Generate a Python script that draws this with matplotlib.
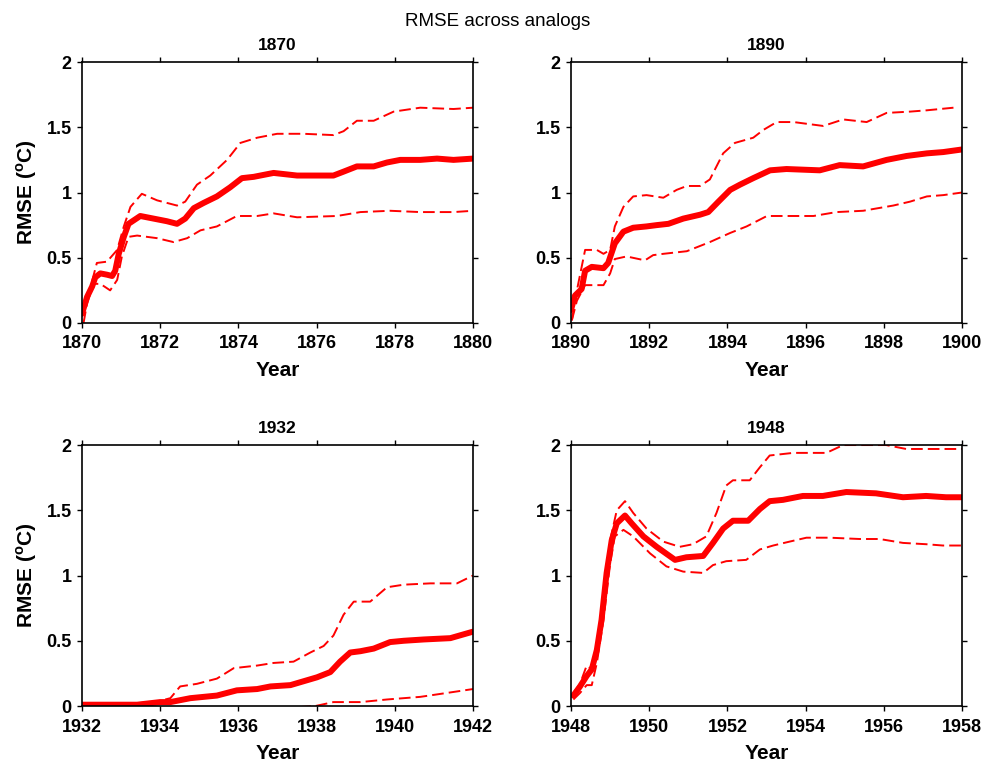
import numpy as np
import matplotlib
matplotlib.use('Agg')
import matplotlib.pyplot as plt

plt.rcParams['font.family'] = ['Liberation Sans', 'DejaVu Sans']
plt.rcParams['mathtext.fontset'] = 'custom'
plt.rcParams['mathtext.rm'] = 'Liberation Sans'
plt.rcParams['mathtext.bf'] = 'Liberation Sans:bold'

# ---- data (years since start, RMSE in degC) ----
start_years = [1870, 1890, 1932, 1948]

# 1870
t1870_mean = [0, 0.13, 0.26, 0.34, 0.47, 0.64, 0.77, 0.85, 0.94, 1.07, 1.19, 1.49, 1.83, 2.17, 2.43,
              2.64, 2.86, 3.11, 3.45, 3.79, 4.09, 4.39, 4.9, 5.5, 5.92, 6.43, 6.69, 7.03, 7.46, 7.8,
              8.14, 8.65, 9.08, 9.5, 10]
v1870_mean = [0.07, 0.2, 0.28, 0.35, 0.38, 0.37, 0.36, 0.4, 0.53, 0.66, 0.76, 0.82, 0.8, 0.78, 0.76,
              0.8, 0.88, 0.92, 0.97, 1.04, 1.11, 1.12, 1.15, 1.13, 1.13, 1.13, 1.16, 1.2, 1.2, 1.23,
              1.25, 1.25, 1.26, 1.25, 1.26]
t1870_hi = [0.04, 0.17, 0.38, 0.64, 0.9, 1.07, 1.24, 1.53, 1.92, 2.43, 2.64, 2.94, 3.28, 3.71, 4.05,
            4.48, 4.99, 5.67, 6.43, 6.69, 7.03, 7.46, 7.97, 8.65, 9.5, 10]
v1870_hi = [0.07, 0.22, 0.46, 0.47, 0.56, 0.74, 0.89, 0.99, 0.94, 0.9, 0.93, 1.06, 1.13, 1.25, 1.38,
            1.42, 1.45, 1.45, 1.44, 1.47, 1.55, 1.55, 1.62, 1.65, 1.64, 1.65]
t1870_lo = [0.04, 0.13, 0.3, 0.47, 0.72, 0.9, 1.02, 1.19, 1.41, 1.92, 2.34, 2.69, 3.03, 3.45, 3.96,
            4.48, 4.9, 5.5, 6.52, 7.12, 7.88, 8.65, 9.5, 10]
v1870_lo = [0.0, 0.15, 0.3, 0.3, 0.25, 0.33, 0.51, 0.66, 0.67, 0.65, 0.62, 0.65, 0.71, 0.74, 0.82,
            0.82, 0.84, 0.81, 0.82, 0.85, 0.86, 0.85, 0.85, 0.86]

# 1890
t1890_mean = [0, 0.1, 0.27, 0.36, 0.53, 0.83, 0.95, 1.12, 1.34, 1.59, 1.93, 2.19, 2.49, 2.87, 3.3,
              3.51, 3.77, 4.07, 4.32, 4.66, 5.09, 5.51, 6.36, 6.87, 7.47, 8.07, 8.58, 9.1, 9.52, 10]
v1890_mean = [0.1, 0.21, 0.26, 0.4, 0.43, 0.42, 0.46, 0.61, 0.7, 0.73, 0.74, 0.75, 0.76, 0.8, 0.83,
              0.85, 0.93, 1.02, 1.06, 1.11, 1.17, 1.18, 1.17, 1.21, 1.2, 1.25, 1.28, 1.3, 1.31, 1.33]
t1890_hi = [0.02, 0.15, 0.36, 0.66, 0.83, 1.0, 1.12, 1.34, 1.59, 1.93, 2.36, 2.7, 2.96, 3.3, 3.55,
            3.89, 4.19, 4.66, 4.92, 5.26, 5.69, 6.45, 6.96, 7.56, 8.07, 8.67, 9.1, 9.78]
v1890_hi = [0.02, 0.25, 0.56, 0.56, 0.53, 0.56, 0.74, 0.89, 0.97, 0.98, 0.96, 1.02, 1.05, 1.05, 1.1,
            1.3, 1.38, 1.42, 1.48, 1.54, 1.54, 1.51, 1.56, 1.54, 1.61, 1.62, 1.63, 1.65]
t1890_lo = [0.02, 0.15, 0.36, 0.83, 1.0, 1.12, 1.42, 1.89, 2.1, 2.36, 2.96, 3.55, 4.07, 4.49, 5.01,
            5.6, 6.2, 6.79, 7.47, 8.24, 8.67, 9.1, 9.52, 10]
v1890_lo = [0.02, 0.17, 0.29, 0.29, 0.38, 0.49, 0.51, 0.48, 0.52, 0.53, 0.55, 0.62, 0.69, 0.74, 0.82,
            0.82, 0.82, 0.85, 0.86, 0.9, 0.93, 0.97, 0.98, 1.0]

# 1932
t1932_mean = [0, 0.55, 1.41, 2.0, 2.26, 2.77, 3.45, 3.96, 4.48, 4.82, 5.33, 5.67, 6.01, 6.35, 6.6,
              6.86, 7.12, 7.46, 7.88, 8.23, 8.74, 9.42, 10]
v1932_mean = [0.01, 0.01, 0.01, 0.03, 0.03, 0.06, 0.08, 0.12, 0.13, 0.15, 0.16, 0.19, 0.22, 0.26, 0.34,
              0.41, 0.42, 0.44, 0.49, 0.5, 0.51, 0.52, 0.57]
t1932_hi = [0, 1.0, 1.75, 2.0, 2.26, 2.51, 2.94, 3.45, 3.88, 4.48, 4.9, 5.41, 5.84, 6.18, 6.43, 6.69,
            6.95, 7.37, 7.8, 8.23, 8.91, 9.59, 10]
v1932_hi = [0.01, 0.01, 0.03, 0.04, 0.06, 0.15, 0.17, 0.21, 0.29, 0.31, 0.33, 0.34, 0.41, 0.46, 0.54,
            0.7, 0.8, 0.8, 0.91, 0.93, 0.94, 0.94, 1.0]
t1932_lo = [0, 2.0, 4.0, 5.97, 6.43, 7.12, 7.8, 8.65, 9.33, 10]
v1932_lo = [-0.06, -0.06, -0.04, 0.0, 0.03, 0.03, 0.05, 0.07, 0.1, 0.13]

# 1948
t1948_mean = [0.06, 0.23, 0.4, 0.53, 0.66, 0.78, 0.91, 1.04, 1.17, 1.38, 1.55, 1.85, 2.19, 2.66, 2.95,
              3.38, 3.63, 3.89, 4.14, 4.53, 4.83, 5.08, 5.42, 5.93, 6.44, 7.04, 7.8, 8.49, 9.08, 9.59, 10]
v1948_mean = [0.08, 0.15, 0.23, 0.28, 0.43, 0.66, 1.02, 1.27, 1.4, 1.46, 1.4, 1.3, 1.22, 1.12, 1.14,
              1.15, 1.25, 1.36, 1.42, 1.42, 1.51, 1.57, 1.58, 1.61, 1.61, 1.64, 1.63, 1.6, 1.61, 1.6, 1.6]
t1948_hi = [0.06, 0.23, 0.4, 0.53, 0.66, 0.83, 1.0, 1.17, 1.38, 1.59, 1.93, 2.36, 2.78, 3.12, 3.46,
            3.72, 3.97, 4.14, 4.57, 4.83, 5.08, 5.68, 6.53, 6.96, 7.55, 8.06, 8.57, 9.25, 10]
v1948_hi = [0.1, 0.17, 0.31, 0.28, 0.45, 0.79, 1.27, 1.5, 1.57, 1.48, 1.36, 1.26, 1.22, 1.24, 1.3,
            1.48, 1.69, 1.73, 1.73, 1.83, 1.92, 1.94, 1.94, 2.0, 2.0, 2.0, 1.97, 1.97, 1.97]
t1948_lo = [0.06, 0.23, 0.4, 0.53, 0.66, 0.83, 1.0, 1.12, 1.34, 1.59, 2.02, 2.44, 2.87, 3.38, 3.63,
            3.97, 4.48, 4.83, 5.17, 5.59, 6.02, 6.61, 7.38, 7.89, 8.49, 9.08, 9.51, 10]
v1948_lo = [0.05, 0.1, 0.16, 0.16, 0.33, 0.66, 1.09, 1.3, 1.35, 1.3, 1.17, 1.07, 1.03, 1.02, 1.08,
            1.11, 1.12, 1.2, 1.23, 1.26, 1.29, 1.29, 1.28, 1.28, 1.25, 1.24, 1.23, 1.23]

panels = [
    (t1870_mean, v1870_mean, t1870_hi, v1870_hi, t1870_lo, v1870_lo),
    (t1890_mean, v1890_mean, t1890_hi, v1890_hi, t1890_lo, v1890_lo),
    (t1932_mean, v1932_mean, t1932_hi, v1932_hi, t1932_lo, v1932_lo),
    (t1948_mean, v1948_mean, t1948_hi, v1948_hi, t1948_lo, v1948_lo),
]

# axes boxes in figure fraction [left, bottom, width, height]
boxes = [
    [0.0824, 0.5767, 0.393, 0.342],
    [0.5739, 0.5767, 0.393, 0.342],
    [0.0824, 0.0747, 0.393, 0.342],
    [0.5739, 0.0747, 0.393, 0.342],
]

fig = plt.figure(figsize=(9.95, 7.63), dpi=100)

for i, (y0, box, data) in enumerate(zip(start_years, boxes, panels)):
    ax = fig.add_axes(box)
    tm, vm, th, vh, tl, vl = data
    ax.plot(y0 + np.array(tm), vm, color='#ff0000', lw=4.3, solid_capstyle='round', zorder=3)
    ax.plot(y0 + np.array(th), vh, color='#ff0000', lw=1.4, dashes=(6, 2.6), zorder=3)
    ax.plot(y0 + np.array(tl), vl, color='#ff0000', lw=1.4, dashes=(6, 2.6), zorder=3)

    ax.set_xlim(y0, y0 + 10)
    ax.set_ylim(0, 2)
    ax.set_xticks(np.arange(y0, y0 + 11, 2))
    ax.set_yticks([0, 0.5, 1, 1.5, 2])
    ax.set_yticklabels(['0', '0.5', '1', '1.5', '2'])
    ax.tick_params(direction='out', length=3.5, width=1, top=True, right=True, labelsize=13)
    ax.tick_params(axis='x', pad=5.5)
    ax.tick_params(axis='y', pad=4)
    for lab in ax.get_xticklabels() + ax.get_yticklabels():
        lab.set_fontweight('bold')
    for sp in ax.spines.values():
        sp.set_linewidth(1.2)
        sp.set_zorder(4)

    ax.set_title(str(y0), fontsize=12.5, fontweight='bold', pad=9)
    ax.set_xlabel('Year', fontsize=15, fontweight='bold', labelpad=6)
    if i % 2 == 0:
        ax.set_ylabel(r'RMSE ($^{\mathbf{o}}$C)', fontsize=15, fontweight='bold', labelpad=5)

fig.text(0.5, 0.972, 'RMSE across analogs', ha='center', va='center', fontsize=13.5)

fig.savefig('out.png', dpi=100)
